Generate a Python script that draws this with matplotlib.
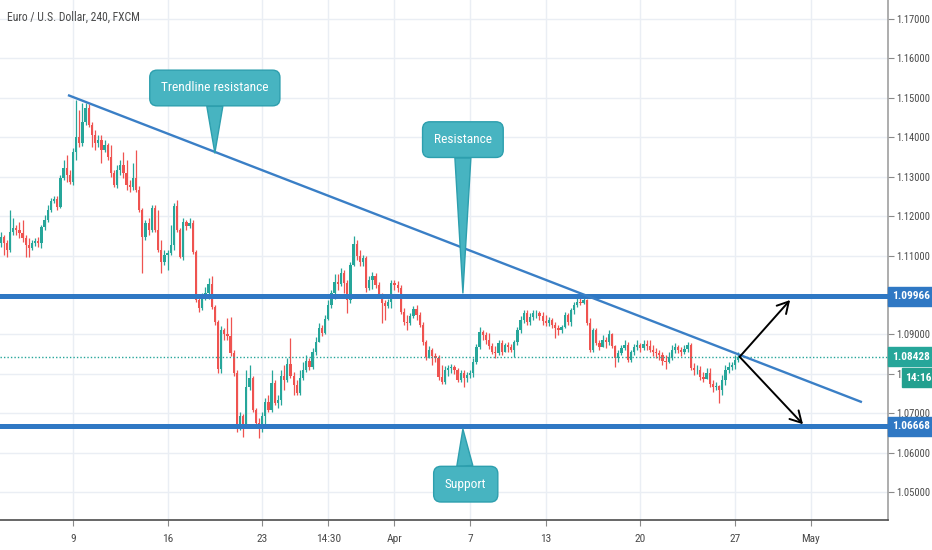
import matplotlib
matplotlib.use("Agg")
import matplotlib.pyplot as plt
import numpy as np
from matplotlib.transforms import blended_transform_factory
from matplotlib.patches import Rectangle
from matplotlib import font_manager

# ---------------- data ----------------
title = "Euro / U.S. Dollar, 240, FXCM"
first_index = -23          # bar index of the first candle (9 Mar 00:00 = 0)
first_open = 11132         # prices in 1e-4 units
closes = [
    11147, 11131, 11114, 11160, 11170, 11165, 11157, 11144, 11126, 11119, 11131, 11136,
    11131, 11172, 11190, 11216, 11238, 11243, 11223, 11297, 11322, 11304, 11287, 11363,
    11400, 11385, 11439, 11474, 11431, 11406, 11385, 11393, 11368, 11380, 11350, 11309,
    11279, 11317, 11330, 11309, 11279,
    11274, 11297, 11266, 11216, 11147, 11182, 11165, 11221, 11165, 11114, 11084, 11101,
    11106, 11126, 11226, 11165, 11096, 11185, 11175, 11182, 11109, 10987, 10967, 10995,
    11005, 11028, 10970, 10932, 10812, 10911, 10901, 10896, 10853, 10802, 10670, 10693,
    10665, 10766, 10789,
    10708, 10675, 10662, 10693, 10728, 10708, 10776, 10726, 10734, 10794,
    10784, 10825, 10794, 10771, 10751, 10789, 10810, 10832, 10817, 10855,
    10881, 10916, 10904, 10939, 10975, 11005, 11033, 11028, 11056, 11030,
    10987, 11076, 11129, 11099, 11084, 11094, 11018, 11038, 11048, 11025,
    11000, 10980, 10972, 10982, 11030, 11025, 11018, 10957, 10932, 10929,
    10947, 10964, 10949, 10924, 10881, 10843, 10860, 10845, 10840, 10792,
    10779, 10810, 10815, 10817, 10810, 10784, 10802, 10789, 10797, 10802,
    10830, 10868, 10906, 10898, 10886, 10870, 10855, 10853, 10878, 10855,
    10873, 10868, 10860, 10881, 10911, 10937, 10954, 10932, 10944, 10954,
    10954, 10947, 10934, 10929, 10937, 10924, 10916, 10911, 10919, 10949,
    10932, 10962, 10975, 10982, 10980, 10987, 10929, 10860, 10911, 10878,
    10868, 10886, 10881, 10901, 10870, 10840, 10853, 10865, 10873, 10835,
    10855, 10868, 10873, 10865, 10875, 10870, 10860, 10855, 10853, 10847,
    10832, 10830, 10843, 10860, 10868, 10860, 10855, 10863, 10873, 10815,
    10810, 10810, 10792, 10787, 10802, 10774, 10766, 10769, 10759, 10784,
    10810, 10817, 10822, 10835, 10843,
]
highs = [
    11160, 11152, 11139, 11216, 11196, 11177, 11185, 11190, 11152, 11144, 11139, 11144,
    11147, 11177, 11203, 11228, 11246, 11251, 11251, 11304, 11342, 11355, 11317, 11373,
    11495, 11469, 11487, 11487, 11484, 11439, 11418, 11406, 11406, 11393, 11385, 11380,
    11317, 11330, 11342, 11363, 11342,
    11292, 11335, 11368, 11276, 11221, 11190, 11196, 11228, 11228, 11216, 11139, 11114,
    11114, 11177, 11233, 11241, 11170, 11196, 11190, 11196, 11190, 11114, 11000, 11005,
    11020, 11043, 11048, 10975, 10937, 10921, 10916, 10942, 10944, 10860, 10810, 10703,
    10698, 10810, 10822,
    10794, 10713, 10688, 10703, 10739, 10746, 10810, 10784, 10746, 10810,
    10822, 10840, 10891, 10804, 10784, 10810, 10830, 10847, 10840, 10865,
    10893, 10929, 10924, 10949, 10987, 11013, 11053, 11053, 11068, 11063,
    11038, 11084, 11149, 11139, 11114, 11101, 11099, 11048, 11058, 11056,
    11033, 11005, 10987, 10990, 11038, 11038, 11035, 11025, 10967, 10949,
    10954, 10972, 10975, 10957, 10932, 10886, 10870, 10865, 10853, 10847,
    10822, 10820, 10822, 10825, 10822, 10815, 10810, 10810, 10804, 10810,
    10840, 10875, 10919, 10911, 10906, 10904, 10878, 10870, 10886, 10886,
    10878, 10881, 10875, 10886, 10919, 10947, 10962, 10962, 10954, 10962,
    10962, 10959, 10957, 10949, 10944, 10942, 10932, 10924, 10924, 10957,
    10954, 10967, 10982, 10992, 10992, 10995, 10990, 10942, 10916, 10916,
    10886, 10898, 10893, 10911, 10904, 10873, 10860, 10873, 10886, 10881,
    10860, 10875, 10886, 10878, 10886, 10886, 10886, 10873, 10865, 10860,
    10855, 10847, 10855, 10873, 10878, 10873, 10868, 10873, 10881, 10878,
    10827, 10822, 10820, 10804, 10815, 10815, 10784, 10779, 10771, 10797,
    10822, 10830, 10830, 10847, 10855,
]
lows = [
    11121, 11101, 11096, 11109, 11152, 11152, 11144, 11134, 11096, 11096, 11114, 11124,
    11121, 11119, 11165, 11185, 11211, 11233, 11216, 11221, 11292, 11287, 11282, 11279,
    11342, 11375, 11378, 11431, 11426, 11375, 11368, 11375, 11335, 11363, 11342, 11299,
    11274, 11271, 11304, 11297, 11266,
    11261, 11266, 11261, 11211, 11055, 11139, 11152, 11160, 11160, 11109, 11055, 11076,
    11063, 11101, 11114, 11160, 11094, 11089, 11165, 11170, 11104, 10982, 10957, 10962,
    10987, 10990, 10965, 10924, 10802, 10802, 10886, 10886, 10845, 10794, 10652, 10657,
    10639, 10662, 10759,
    10703, 10665, 10637, 10652, 10670, 10703, 10703, 10721, 10713, 10721,
    10759, 10779, 10789, 10746, 10746, 10746, 10784, 10804, 10810, 10812,
    10847, 10881, 10896, 10901, 10937, 10967, 10990, 11013, 11023, 11005,
    10954, 10980, 11073, 11089, 11073, 11073, 11008, 11013, 11015, 11018,
    10995, 10929, 10937, 10967, 10967, 11013, 11008, 10952, 10924, 10911,
    10924, 10942, 10937, 10919, 10873, 10835, 10840, 10822, 10830, 10784,
    10774, 10774, 10794, 10802, 10799, 10779, 10779, 10766, 10779, 10789,
    10792, 10825, 10863, 10886, 10875, 10863, 10850, 10840, 10847, 10847,
    10855, 10855, 10855, 10843, 10873, 10904, 10929, 10924, 10924, 10937,
    10942, 10937, 10924, 10921, 10921, 10916, 10891, 10898, 10904, 10916,
    10924, 10921, 10952, 10970, 10975, 10977, 10924, 10855, 10855, 10873,
    10860, 10873, 10865, 10873, 10865, 10817, 10830, 10847, 10860, 10830,
    10830, 10847, 10860, 10855, 10860, 10860, 10855, 10845, 10840, 10835,
    10822, 10812, 10827, 10835, 10853, 10853, 10845, 10850, 10855, 10810,
    10797, 10799, 10784, 10779, 10789, 10766, 10754, 10759, 10726, 10746,
    10771, 10802, 10810, 10812, 10830,
]

price_ticks = [1.05, 1.06, 1.07, 1.08, 1.09, 1.10, 1.11, 1.12, 1.13, 1.14, 1.15, 1.16, 1.17]
price_tick_labels = ["1.05000", "1.06000", "1.07000", "1.08000", "1.09000", "",
                     "1.11000", "1.12000", "1.13000", "1.14000", "1.15000", "1.16000", "1.17000"]
date_tick_pos = [0, 30, 60, 81, 102, 126, 150, 180, 210, 234]
date_tick_labels = ["9", "16", "23", "14:30", "Apr", "7", "13", "20", "27", "May"]

resistance = 1.09966
support = 1.06668
last_price = 1.08428
countdown = "14:16"

trend_start = (-1.6, 1.1507)
trend_end = (250.3, 1.0728)
arrow_start = (211.5, 1.0843)
arrow_up_end = (227.5, 1.0987)
arrow_down_end = (231.6, 1.0672)

callout_texts = ["Trendline resistance", "Resistance", "Support"]
callout_tips = [(45.0, 1.1360), (123.7, 1.1005), (123.7, 1.0660)]
callout_boxes = [(45.0, 1.1525), (123.7, 1.1394), (124.6, 1.0520)]

# ---------------- style ----------------
UP = "#26a69a"
DOWN = "#ef5350"
BLUE = "#2f78c4"
TEAL_BOX = "#47b4c1"
TEAL_EDGE = "#2d9fae"
GRID = "#eaeef4"
TXT = "#4a4a4a"

avail = {f.name for f in font_manager.fontManager.ttflist}
narrow = None
for cand in ["Liberation Sans Narrow", "Roboto Condensed", "Open Sans Condensed"]:
    if cand in avail:
        narrow = cand
        break
FAM = [narrow, "DejaVu Sans"] if narrow else ["DejaVu Sans"]
plt.rcParams["font.family"] = FAM

W, H = 932, 550
fig = plt.figure(figsize=(W / 100, H / 100), dpi=100, facecolor="white")
ax = fig.add_axes([0, 30 / H, 888 / W, 520 / H])
ax.set_facecolor("white")

x_lo, x_hi = -23.16, 258.57
y_lo, y_hi = 1.042908, 1.174820
ax.set_xlim(x_lo, x_hi)
ax.set_ylim(y_lo, y_hi)

# grid
for p in price_ticks:
    ax.axhline(p, color=GRID, lw=1, zorder=0)
for d in date_tick_pos:
    ax.axvline(d, color=GRID, lw=1, zorder=0)

# candles
n = min(len(closes), len(highs), len(lows))
c = np.array(closes[:n]) / 1e4
h = np.array(highs[:n]) / 1e4
l = np.array(lows[:n]) / 1e4
o = np.concatenate([[first_open / 1e4], c[:-1]])
h = np.maximum(h, np.maximum(o, c))
l = np.minimum(l, np.minimum(o, c))
idx = np.arange(n) + first_index
cols = np.where(c >= o, UP, DOWN)
ax.vlines(idx, l, h, colors=cols, lw=0.9, zorder=3)
body_b = np.minimum(o, c)
body_h = np.maximum(np.abs(c - o), 0.00008)
ax.bar(idx, body_h, bottom=body_b, width=0.72, color=cols, linewidth=0, zorder=3)

# horizontal levels
ax.axhline(resistance, color=BLUE, lw=3.6, zorder=4)
ax.axhline(support, color=BLUE, lw=3.6, zorder=4)
ax.axhline(last_price, color=UP, lw=1.0, ls=(0, (1, 1.5)), zorder=4)

# trendline
ax.plot([trend_start[0], trend_end[0]], [trend_start[1], trend_end[1]],
        color="#3a7fc6", lw=1.7, zorder=5, solid_capstyle="butt")

# arrows
for end in (arrow_up_end, arrow_down_end):
    ax.annotate("", xy=end, xytext=arrow_start,
                arrowprops=dict(arrowstyle="->,head_length=0.8,head_width=0.45",
                                color="black", lw=1.4, shrinkA=0, shrinkB=0),
                zorder=6)

# callouts
for txt, tip, box in zip(callout_texts, callout_tips, callout_boxes):
    ax.annotate(txt, xy=tip, xytext=box, ha="center", va="center",
                fontsize=9.6, color="white", zorder=8,
                bbox=dict(boxstyle="round,pad=0.85,rounding_size=0.55",
                          fc=TEAL_BOX, ec=TEAL_EDGE, lw=1),
                arrowprops=dict(arrowstyle="wedge,tail_width=1.2,shrink_factor=0.5",
                                fc=TEAL_BOX, ec=TEAL_EDGE, lw=1,
                                shrinkA=0, shrinkB=0))

# axes styling
for s in ["top", "left"]:
    ax.spines[s].set_visible(False)
ax.spines["bottom"].set_color("#4d4d4d")
ax.spines["bottom"].set_linewidth(1.2)
ax.spines["right"].set_color("#a0a0a0")
ax.spines["right"].set_linewidth(1.2)

ax.yaxis.tick_right()
ax.set_yticks(price_ticks)
ax.set_yticklabels(price_tick_labels)
ax.tick_params(axis="y", length=4, width=0.8, color="#8a8a8a", pad=2,
               labelsize=7.6, labelcolor=TXT)
ax.set_xticks(date_tick_pos)
ax.set_xticklabels(date_tick_labels)
ax.tick_params(axis="x", length=4, width=0.8, color="#8a8a8a", pad=6,
               labelsize=8.2, labelcolor=TXT)

# right-side price labels
trans = blended_transform_factory(ax.transAxes, ax.transData)
ax_w_px = 888.0
px_y = (y_hi - y_lo) / 520.0


def price_label(val, text, color, x0_px=0, w_px=44, h_px=19, yoff_px=0, bold=False):
    yc = val - yoff_px * px_y
    r = Rectangle((1.0 + x0_px / ax_w_px, yc - h_px / 2 * px_y), w_px / ax_w_px, h_px * px_y,
                  transform=trans, fc=color, ec=color, clip_on=False, zorder=20)
    ax.add_patch(r)
    ax.text(1.0 + (x0_px + w_px / 2 + 1) / ax_w_px, yc, text, transform=trans,
            ha="center", va="center", color="white", fontsize=8.2,
            fontweight="bold" if bold else "normal", clip_on=False, zorder=21)


price_label(resistance, f"{resistance:.5f}", BLUE, bold=True)
price_label(support, f"{support:.5f}", BLUE, bold=True)
price_label(last_price, f"{last_price:.5f}", UP, bold=True)
price_label(last_price, countdown, "#22a08f", x0_px=14, w_px=30, h_px=19, yoff_px=21, bold=True)

fig.text(7 / W, 1 - 17 / H, title, ha="left", va="center", fontsize=8.4, color=TXT)

fig.savefig("out.png", dpi=100, facecolor="white")
